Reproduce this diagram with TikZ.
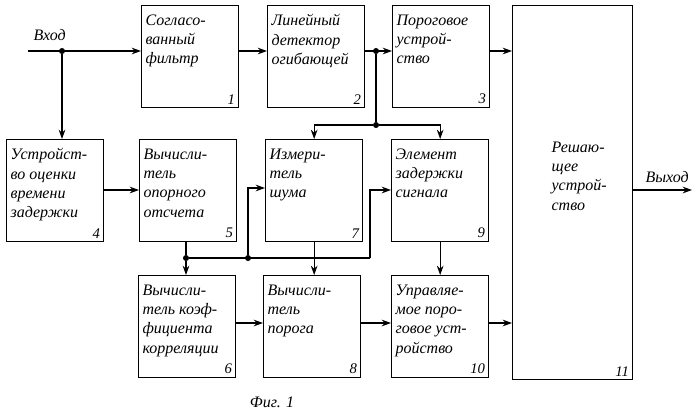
\documentclass[tikz,border=0pt]{standalone}
\usepackage{fontspec}
\setmainfont{Liberation Serif}
\usetikzlibrary{arrows.meta}
\tikzset{
  blk/.style={draw, line width=1pt, anchor=north west, inner sep=0pt},
  txt/.style={anchor=north west, align=left, inner sep=1pt, font=\itshape\fontsize{12}{14.5}\selectfont},
  num/.style={anchor=south east, inner sep=3pt, font=\itshape\fontsize{11}{12}\selectfont},
  sig/.style={line width=0.9pt, -{Stealth[length=7pt,width=5pt]}},
  wire/.style={line width=0.9pt},
  dot/.style={circle, fill, inner sep=1.6pt}
}
\newcommand{\unit}[5]{% name, x, y, text, number
  \node[blk, minimum width=72.75pt, minimum height=76.5pt] (#1) at (#2,#3) {};
  \node[txt] at (#2+3,#3+8) {#4};
  \node[num] at (#1.south east) {#5};
}
\begin{document}
\begin{tikzpicture}[x=0.75pt,y=0.75pt,yscale=-1,xscale=1]
\useasboundingbox (0,0) rectangle (699,419);

% blocks
\unit{sf}{141}{5}{Согласо-\\ванный\\фильтр}{1}
\unit{ld}{267}{5}{Линейный\\детектор\\огибающей}{2}
\unit{pu}{392}{5}{Пороговое\\устрой-\\ство}{3}
\unit{ov}{6}{139}{Устройст-\\во оценки\\времени\\задержки}{4}
\unit{vo}{139}{139}{Вычисли-\\тель\\опорного\\отсчета}{5}
\unit{is}{265}{139}{Измери-\\тель\\шума}{7}
\unit{zs}{391}{139}{Элемент\\задержки\\сигнала}{9}
\unit{vk}{138}{275}{Вычисли-\\тель коэф-\\фициента\\корреляции}{6}
\unit{vp}{263}{275}{Вычисли-\\тель\\порога}{8}
\unit{up}{391}{275}{Управляе-\\мое поро-\\говое уст-\\ройство}{10}
\node[blk, minimum width=90pt, minimum height=280.5pt] (rs) at (512,5) {};
\node[txt] at (550,140) {Решаю-\\щее\\устрой-\\ство};
\node[num] at (rs.south east) {11};

% input
\coordinate (in) at (28,51);
\node[txt, anchor=south west] at (32,42) {Вход};
\node[dot] (d1) at (62,51) {};
\draw[sig] (in) -- (sf.west |- in);
\draw[sig] (d1) -- (ov.north -| d1);
\draw[sig] (sf.east |- in) -- (ld.west |- in);
\draw[sig] (ld.east |- in) -- (pu.west |- in);
\draw[sig] (pu.east |- in) -- (rs.west |- in);

% branch after detector
\node[dot] (d2) at (376,51) {};
\node[dot] (d3) at (376,125) {};
\draw[wire] (d2) -- (d3);
\draw[sig] (d3) -| (is.north);
\draw[sig] (d3) -| (zs.north);

% middle row
\draw[sig] (ov.east |- 0,190) -- (vo.west |- 0,190);
\node[dot] (d4) at (186,258) {};
\node[dot] (d5) at (248,258) {};
\draw[wire] (vo.south -| d4) -- (d4);
\draw[sig] (d4) -- (vk.north -| d4);
\draw[wire] (d4) -- (370,258) coordinate (c1);
\draw[sig] (d5) |- (is.west |- 0,188);
\draw[sig] (c1) |- (zs.west |- 0,190);
\draw[sig] (is.south) -- (vp.north -| is.south);
\draw[sig] (zs.south) -- (up.north -| zs.south);

% bottom row
\draw[sig] (vk.east |- 0,323) -- (vp.west |- 0,323);
\draw[sig] (vp.east |- 0,323) -- (up.west |- 0,323);
\draw[sig] (up.east |- 0,323) -- (rs.west |- 0,323);

% output
\coordinate (out) at (692,190);
\draw[sig] (rs.east |- out) -- (out);
\node[txt, anchor=south west] at (644,184) {Выход};

\node[font=\itshape\fontsize{12}{14}\selectfont] (cap) at (272,402) {Фиг. 1};
\end{tikzpicture}
\end{document}
